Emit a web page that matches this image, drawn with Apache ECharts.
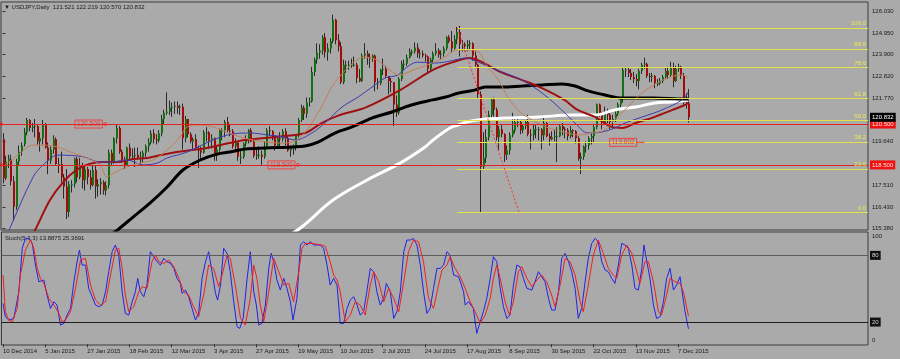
<!DOCTYPE html>
<html><head><meta charset="utf-8">
<script src="https://cdn.jsdelivr.net/npm/echarts@6/dist/echarts.min.js"></script>
<style>html,body{margin:0;padding:0;background:#aaaaaa}#c{width:900px;height:359px}</style>
</head><body><div id="c"></div><script>
// ---------- data ----------
const dateLabels = ['10 Dec 2014','5 Jan 2015','27 Jan 2015','18 Feb 2015','12 Mar 2015','3 Apr 2015','27 Apr 2015','19 May 2015','10 Jun 2015','2 Jul 2015','24 Jul 2015','17 Aug 2015','8 Sep 2015','30 Sep 2015','22 Oct 2015','13 Nov 2015','7 Dec 2015'];
const dateLabelIdx = [0,16,32,48,64,80,96,112,128,144,160,176,192,208,224,240,256];
const priceTicks = [126.030,124.950,123.900,122.820,121.770,119.640,117.510,116.430,115.380];

const opens = [119.75,117.85,118.65,118.75,117.70,116.45,118.65,119.15,119.50,120.10,120.70,120.30,120.35,120.40,119.65,119.80,120.45,119.35,118.70,119.25,119.75,118.55,118.55,117.90,117.45,116.20,117.55,117.55,118.80,117.90,118.45,117.75,118.30,117.90,117.50,118.25,117.45,117.55,117.65,117.25,117.50,119.10,118.65,119.80,120.30,119.15,118.70,118.50,119.35,118.90,118.95,119.00,118.85,118.85,119.10,119.40,119.60,120.05,119.75,119.70,120.05,120.75,121.05,121.10,121.30,121.35,121.40,121.30,121.35,119.80,120.75,120.00,119.65,119.75,119.30,119.20,119.10,120.10,120.10,119.70,119.80,118.95,119.25,120.20,120.20,120.60,120.20,120.15,119.40,119.60,118.90,118.90,119.55,119.75,120.20,119.65,118.95,119.00,119.00,118.90,119.40,120.20,120.15,119.80,119.45,119.80,119.75,120.15,119.80,119.20,119.30,119.35,119.95,120.70,121.30,121.00,121.55,121.60,123.05,123.65,124.00,124.10,124.75,124.00,124.20,124.55,125.60,124.60,124.30,122.55,123.40,123.40,123.40,123.40,123.40,122.75,122.60,123.85,123.95,123.75,123.70,123.85,122.55,122.50,123.15,123.20,122.85,122.60,122.55,121.45,121.05,122.70,123.45,123.45,123.75,124.05,124.05,124.25,123.95,123.95,123.85,123.80,123.20,123.65,123.95,124.10,123.90,123.95,124.20,124.75,124.55,124.20,124.65,125.00,124.40,124.40,124.30,124.40,124.45,123.85,123.40,121.95,118.40,118.85,119.85,120.95,121.70,121.20,119.85,120.25,120.00,119.00,119.20,119.95,120.20,120.60,120.60,120.20,120.40,120.60,120.00,119.95,120.25,120.25,120.25,119.95,120.55,119.90,119.75,119.85,119.90,119.90,120.40,120.25,120.20,119.90,120.20,120.15,119.80,118.80,118.90,119.40,119.45,119.80,119.90,120.35,121.45,121.05,120.55,121.10,120.95,120.60,120.75,121.00,121.45,121.75,123.15,123.15,123.00,122.80,122.70,122.60,123.10,123.40,123.45,122.85,122.80,122.85,122.50,122.50,122.60,122.80,123.10,122.90,123.25,122.60,123.20,123.30,122.85,121.55,121.521];
const highs = [120.05,118.95,119.00,119.00,117.95,118.80,119.45,119.60,120.30,120.80,120.75,120.55,120.75,120.45,120.10,120.70,120.55,119.60,119.40,119.95,119.85,118.85,119.15,118.05,118.30,117.70,117.75,118.85,118.90,118.85,118.60,118.50,118.40,118.25,118.45,118.45,117.80,117.85,117.75,117.70,119.25,119.25,119.85,120.50,120.40,119.25,118.90,119.40,119.55,119.30,119.35,119.35,119.15,119.20,119.50,119.80,120.20,120.25,120.00,120.20,120.95,121.20,122.05,121.65,121.55,121.60,121.60,121.45,121.50,120.90,120.75,120.10,119.85,120.00,119.45,119.40,120.20,120.35,120.15,120.00,119.85,119.40,120.25,120.30,120.70,120.85,120.45,120.25,119.80,119.65,119.20,119.60,119.95,120.25,120.30,119.80,119.25,119.40,119.20,119.65,120.30,120.40,120.20,119.95,119.90,120.10,120.25,120.30,119.90,119.45,119.50,120.00,120.80,121.45,121.40,121.80,121.80,123.30,123.75,124.45,124.40,124.85,124.95,124.45,124.70,125.85,125.65,124.90,124.50,123.65,123.60,123.60,123.70,123.80,123.50,123.20,123.95,124.45,124.10,123.95,123.90,123.90,122.75,123.20,123.70,123.35,122.85,122.75,122.55,121.90,122.80,123.60,123.65,123.90,124.20,124.15,124.50,124.45,124.15,124.10,123.95,123.85,123.75,124.05,124.45,124.20,124.10,124.30,124.80,124.85,125.05,124.85,125.25,125.30,124.60,124.50,124.60,124.60,124.50,124.05,123.45,122.10,120.10,120.25,121.15,121.75,121.80,121.30,120.40,120.50,120.05,119.45,120.10,121.05,120.75,120.85,120.65,120.50,120.70,120.95,120.25,120.45,120.50,120.35,120.30,120.80,120.60,120.05,120.15,120.25,120.35,120.45,120.55,120.35,120.30,120.40,120.25,120.20,119.90,119.10,119.45,119.65,119.90,120.05,120.45,121.50,121.50,121.10,121.35,121.25,121.10,120.95,121.15,121.55,121.80,123.25,123.30,123.25,123.20,123.05,122.95,123.20,123.50,123.75,123.50,123.00,123.00,122.90,122.70,122.75,122.90,123.25,123.30,123.55,123.50,123.35,123.45,123.35,123.00,122.00,122.219];
const lows = [117.60,117.75,118.35,117.50,115.75,116.30,118.50,118.95,119.40,119.95,120.15,120.10,119.85,119.50,119.15,119.50,119.30,118.05,118.55,119.05,118.50,118.10,117.65,116.85,115.85,115.95,117.15,117.40,117.65,117.80,117.35,117.25,117.55,117.30,117.45,116.85,116.95,117.05,117.05,117.00,117.35,118.50,118.55,119.55,119.05,118.60,118.30,118.50,118.80,118.75,118.40,118.75,118.55,118.60,118.90,119.15,119.50,119.55,119.50,119.60,119.90,120.50,120.95,120.95,120.85,121.00,121.00,120.95,119.25,119.60,119.85,119.55,119.25,119.25,118.35,118.80,119.05,119.65,119.30,119.30,118.70,118.70,119.15,119.70,119.85,120.10,119.90,119.30,119.15,118.70,118.55,118.80,119.40,119.55,119.60,118.85,118.75,118.80,118.50,118.80,119.30,119.90,119.70,119.20,119.30,119.35,119.65,119.45,119.15,118.90,119.00,119.20,119.85,120.60,120.70,120.80,121.35,121.55,122.85,123.45,123.70,123.90,123.75,123.60,123.95,124.45,124.40,124.05,122.45,122.45,123.00,123.15,123.25,123.30,122.50,122.55,122.55,123.70,123.40,123.25,123.55,122.10,122.20,122.40,122.90,122.75,121.95,122.05,120.40,120.85,120.95,122.60,123.15,123.35,123.70,123.85,123.95,123.75,123.70,123.75,123.55,123.00,123.05,123.45,123.85,123.75,123.65,123.80,124.10,124.45,124.00,124.15,124.40,123.80,124.05,124.05,124.05,124.15,123.60,123.30,121.75,116.15,118.25,118.60,119.70,120.80,120.85,119.70,119.20,119.85,118.65,118.75,119.00,119.85,120.05,120.35,120.00,120.05,120.25,119.90,119.25,119.70,119.80,119.70,119.25,119.70,119.85,119.45,119.70,119.65,118.65,119.85,119.95,119.80,119.70,119.80,119.85,119.55,118.70,118.05,118.75,119.10,119.25,119.50,119.60,120.25,120.85,120.25,120.45,120.55,120.25,120.30,120.60,120.90,121.30,121.55,122.80,122.80,122.65,122.50,122.35,122.20,122.95,123.20,122.75,122.55,122.55,122.25,122.35,122.40,122.50,122.70,122.70,122.80,122.30,122.55,123.05,122.70,121.45,121.25,120.570];
const closes = [117.85,118.65,118.80,117.70,116.45,118.65,119.15,119.45,120.10,120.70,120.30,120.35,120.40,119.65,119.80,120.45,119.35,118.70,119.25,119.75,118.55,118.55,117.90,117.45,116.20,117.55,117.55,118.80,117.90,118.45,117.75,118.30,117.90,117.50,118.25,117.45,117.55,117.65,117.25,117.50,119.10,118.65,119.80,120.30,119.15,118.70,118.50,119.35,118.90,118.95,119.00,118.85,118.85,119.10,119.40,119.60,120.05,119.75,119.70,120.05,120.75,121.05,121.10,121.30,121.35,121.40,121.30,121.35,119.80,120.75,120.00,119.65,119.75,119.30,119.20,119.10,120.10,120.10,119.70,119.80,118.95,119.25,120.20,120.20,120.60,120.20,120.15,119.40,119.60,118.90,118.90,119.55,119.75,120.20,119.65,118.95,119.00,119.00,118.90,119.40,120.20,120.15,119.80,119.45,119.80,119.75,120.15,119.80,119.20,119.30,119.35,119.95,120.70,121.30,121.00,121.55,121.60,123.05,123.65,124.00,124.10,124.75,124.00,124.20,124.55,125.60,124.60,124.30,122.55,123.40,123.40,123.40,123.40,123.40,122.75,122.60,123.85,123.95,123.75,123.70,123.85,122.55,122.50,123.15,123.20,122.85,122.60,122.55,121.45,121.05,122.70,123.45,123.45,123.75,124.05,124.05,124.25,123.95,123.95,123.85,123.80,123.20,123.65,123.95,124.10,123.90,123.95,124.20,124.75,124.55,124.20,124.65,125.00,124.40,124.40,124.30,124.40,124.45,123.85,123.40,121.95,118.40,118.85,119.85,120.95,121.70,121.20,119.85,120.25,120.00,119.00,119.20,119.95,120.20,120.60,120.60,120.20,120.40,120.60,120.00,119.95,120.25,120.25,120.25,119.95,120.55,119.90,119.75,119.85,119.90,119.90,120.40,120.25,120.20,119.90,120.20,120.15,119.80,118.80,118.90,119.40,119.45,119.80,119.90,120.35,121.45,121.05,120.55,121.10,120.95,120.60,120.75,121.00,121.45,121.75,123.15,123.15,123.00,122.80,122.70,122.60,123.10,123.40,123.45,122.85,122.80,122.85,122.50,122.50,122.60,122.80,123.10,122.90,123.25,122.60,123.20,123.30,122.85,121.55,121.50,120.832];

// moving averages: [bar index, price]
const maWhite = [[106,114.9],[112.8,115.4],[125.3,116.78],[138.2,117.76],[150.7,118.59],[160.2,119.38],[163.2,119.72],[169.6,120.31],[172.7,120.45],[176,120.6],[180.2,120.7],[190.5,120.79],[203,120.84],[216,120.94],[224.6,120.94],[232,121.19],[240,121.33],[247.3,121.53],[253.8,121.58],[260,121.68]];
const maBlack = [[38,114.8],[43.4,115.3],[49.5,115.95],[56,116.64],[62.4,117.42],[68.4,118.25],[75,118.74],[81.3,119.03],[86.2,119.13],[92,119.28],[99.5,119.33],[110,119.38],[114.7,119.43],[119.6,119.62],[126,120.06],[132.5,120.36],[140,120.79],[147.6,121.09],[155,121.43],[163,121.68],[168,121.82],[173,122.02],[179,122.16],[183,122.31],[189.4,122.31],[197,122.36],[204.5,122.41],[212,122.46],[217,122.36],[222,122.12],[228.4,121.92],[235,121.77],[247,121.77],[258.7,121.72],[260,121.72]];
const maMaroon = [[8,114.3],[12.3,115.3],[18,116.78],[23,117.66],[28,118.25],[33,118.55],[38,118.64],[43.4,118.64],[49.5,118.79],[55,118.84],[60,118.98],[66,119.13],[72,119.23],[77.5,119.33],[82.5,119.47],[86,119.57],[92,119.72],[99.5,119.82],[107,119.91],[114.7,120.06],[121,120.55],[127,120.9],[138,121.33],[150.7,122.16],[163,123.14],[170.8,123.53],[177,123.73],[183,123.45],[188.6,123.05],[197,122.65],[204.5,122.26],[213,121.68],[218,121.19],[224.6,120.85],[231,120.36],[235,120.31],[240,120.55],[247,120.84],[254,121.19],[258.7,121.43],[260,121.53]];
const maBlue = [[0,114.5],[2.8,115.4],[11.6,117.91],[15.4,118.5],[21,118.98],[30.5,118.9],[37,118.64],[40.8,118.64],[47.2,118.74],[53.3,118.5],[58.6,118.59],[62.4,118.84],[70,119.13],[79.8,119.72],[87.4,120.02],[93.8,120.06],[100.3,119.97],[106.3,119.87],[110.9,119.72],[117.3,120.06],[122.2,120.55],[128.7,121.33],[134.8,121.82],[140.1,122.31],[145,122.75],[149.9,122.9],[153.3,123.29],[157.5,123.53],[162.8,123.48],[167.7,123.53],[173,123.68],[176.1,123.73],[178.4,123.63],[182.9,123.39],[189.4,123.05],[196.9,122.65],[204.5,122.02],[212,121.19],[217,120.55],[222,120.06],[227.2,120.11],[232.2,120.31],[236,120.55],[242.4,120.84],[250,121.19],[257.6,121.68],[260,122.07]];
const maOrange = [[1,118.5],[6.6,119.07],[11.6,119.47],[15.4,119.47],[20.7,119.38],[26.8,119.08],[32,118.84],[37,118.5],[39.6,117.91],[42,118.1],[47.2,118.4],[52,118.59],[57,118.74],[62.4,119.23],[67.3,119.87],[70,120.36],[74.9,120.45],[79.8,120.36],[85,120.11],[90,119.87],[95,119.72],[100,119.62],[105,119.57],[110,119.62],[114.7,120.1],[118.5,120.8],[122,121.6],[125,122.35],[129,123.0],[133,123.5],[136.7,123.78],[142,123.63],[145.8,123.24],[150.7,122.9],[155.6,123.14],[161,123.39],[167,123.73],[172.3,124.12],[179,124.12],[184,123.29],[188,122.65],[191.6,121.82],[195.4,121.19],[200.7,120.7],[207,120.31],[213,120.11],[218,119.97],[223.5,120.06],[228.4,120.21],[232,120.7],[237,121.33],[242.4,122.02],[247,122.41],[252,122.75],[257.6,122.9],[260,122.75]];

// stochastic: [bar index, value]
const stochK = [[0,36.8],[0.9,24.8],[2.2,21.8],[4.1,23.3],[6,47.3],[7.3,86.3],[8.5,95.3],[9.8,95.3],[11.1,90.8],[12.3,71.3],[13.6,56.3],[15.5,57.8],[16.7,44.3],[18,32.3],[19.3,38.3],[20.5,35.3],[21.8,17.3],[23.1,18.8],[24.3,26.3],[25.6,32.3],[26.9,56.3],[28.1,74.3],[29,84.8],[30,71.3],[31.3,71.3],[32.5,50.3],[33.8,42.8],[35.1,35.3],[36.3,33.8],[37.6,35.3],[38.9,47.3],[40.1,65.3],[41.4,83.3],[42.6,89.3],[43.9,80.3],[45.2,47.3],[46.4,27.8],[47.7,26.3],[49,38.3],[50.2,47.3],[51.1,59.3],[52.1,47.3],[53.4,42.8],[54.6,53.3],[55.9,83.3],[57.2,78.8],[58.4,74.3],[59.7,71.3],[61,77.3],[62.2,74.3],[63.5,72.8],[64.8,68.3],[66,59.3],[67.3,54.8],[67.9,45.8],[69.2,48.8],[70.4,42.8],[71.7,32.3],[73,21.8],[74.2,27.8],[75.5,59.3],[76.8,74.3],[78,83.3],[79.3,65.3],[80.6,45.8],[81.4,39.8],[82.5,53.3],[83.7,86.3],[85,81.8],[86.2,65.3],[87.5,38.3],[88.8,15.8],[89.8,14.3],[91.1,23.3],[92.6,59.3],[93.8,83.3],[95.1,47.3],[96.1,35.3],[97,17.3],[98.2,18.8],[99.5,35.3],[100.8,68.3],[101.7,81.8],[102.7,74.3],[103.9,57.8],[105.2,48.8],[106.5,59.3],[107.7,50.3],[109,38.3],[110,21.8],[111.5,41.3],[112.8,89.3],[114,92.3],[115.3,89.3],[116.6,92.3],[117.8,89.3],[120.4,89.3],[121.6,86.3],[122.9,71.3],[124.1,53.3],[125.4,59.3],[126.7,53.3],[127.9,18.8],[129.2,18.8],[130.5,32.3],[131.7,39.8],[133,42.8],[134.3,35.3],[135.5,26.3],[136.8,29.3],[138,47.3],[139.3,68.3],[140.6,65.3],[141.8,47.3],[143.1,35.3],[144.4,41.3],[145.4,54.8],[146.9,47.3],[148.2,23.3],[149.4,29.3],[150.7,47.3],[152,83.3],[153.2,93.8],[154.5,93.8],[155.7,95.3],[157,89.3],[158.3,71.3],[159.5,47.3],[160.8,27.8],[162,32.3],[163.3,50.3],[164.6,68.3],[165.8,68.3],[167.1,71.3],[168.4,83.3],[169.6,80],[170.9,62.3],[172.8,60.8],[174.7,47.3],[175.3,35.3],[176.6,38.3],[178.4,32.3],[179.7,9.8],[181,20.3],[182.2,29.3],[183.5,41.3],[184.8,59.3],[186,78.8],[187.3,74.3],[188.6,50.3],[189.8,33.8],[191.1,23.3],[192.3,26.3],[193.6,53.3],[194.9,71.3],[196.1,69.8],[197.4,59.3],[198.7,50.3],[200.6,48.8],[201.8,56.3],[203.1,65.3],[204.3,60.8],[205.6,56.3],[206.9,41.3],[208.1,30.8],[209.4,30.8],[210.7,47.3],[211.9,77.3],[213.2,81.8],[214.5,74.3],[215.7,65.3],[217,50.3],[218.2,23.3],[219.5,32.3],[220.8,56.3],[222,77.3],[223.3,90.8],[224.6,95.3],[225.8,92.3],[227.1,74.3],[228.4,66.8],[229.6,65.3],[230.9,59.3],[232.1,54.8],[233.4,71.3],[234.7,90.8],[235.9,89.3],[237.2,86.3],[238.5,71.3],[239.7,50.3],[241,48.8],[242.3,68.3],[243.1,89.3],[244.2,74.3],[245.4,59.3],[246.7,35.3],[247.9,23.3],[249.2,24.8],[250.5,38.3],[251.7,59.3],[253,68.3],[254.3,48.8],[255.5,53.3],[256.8,60.8],[257.4,50.3],[258.7,29.3],[260,13.89]];
const stochD = [[0,62.3],[0.9,29.3],[2.2,21.8],[3.5,20.3],[5.4,32.3],[6.6,62.3],[8.5,84.8],[10.4,93.8],[11.7,86.3],[13,68.3],[14.2,59.3],[15.5,54.8],[17.4,41.3],[19.3,35.3],[21.2,27.8],[22.4,20.3],[23.7,21.8],[25.6,29.3],[27.5,50.3],[29.4,75.8],[31.3,77.3],[33.2,53.3],[35.1,39.8],[37,35.3],[38.9,38.3],[40.8,62.3],[42.6,84.8],[43.9,86.3],[45.2,68.3],[46.4,44.3],[47.7,29.3],[49.6,33.8],[51.5,47.3],[52.8,51.8],[54.6,50.3],[56.5,74.3],[57.8,80.3],[59.1,74.3],[61,72.8],[62.9,75.8],[64.8,69.8],[66.7,59.3],[68.5,47.3],[70.4,44.3],[72.3,33.8],[74.2,24.8],[76.1,44.3],[78,71.3],[79.9,68.3],[81.8,51.8],[83.1,62.3],[85,80.3],[86.2,77.3],[88.1,53.3],[90.1,23.3],[91.9,17.3],[93.8,41.3],[95.1,71.3],[96.3,59.3],[97.6,35.3],[98.9,20.3],[100.8,47.3],[102.7,77.3],[104.6,65.3],[106.5,53.3],[108.4,54.8],[110.2,38.3],[112.2,65.3],[113.4,86.3],[114.7,90.8],[117.2,90.8],[121,89.3],[122.3,87.8],[124.1,74.3],[125.4,62.3],[126.7,57.8],[127.9,47.3],[129.8,20.3],[131.7,26.3],[133.6,38.3],[135.5,35.3],[137.4,26.3],[139.3,53.3],[140.6,65.3],[142.5,56.3],[144.4,38.3],[146.3,50.3],[148.2,41.3],[150.1,29.3],[152,56.3],[153.8,83.3],[155.7,93.8],[157.6,92.3],[159.5,74.3],[161.4,41.3],[163.3,32.3],[165.2,53.3],[166.5,66.8],[168.4,71.3],[169.6,78.8],[171.5,68.3],[173.4,60.8],[175.3,50.3],[177.2,38.3],[179.1,29.3],[181,18.8],[182.9,26.3],[184.8,41.3],[186,59.3],[187.3,71.3],[188.6,59.3],[190.4,38.3],[192.1,26.3],[193.6,38.3],[195.5,65.3],[196.8,69.8],[198.7,59.3],[200.6,51.8],[202.5,57.8],[204.3,62.3],[206.2,56.3],[208.1,44.3],[209.4,33.8],[211.3,53.3],[213.2,77.3],[215.1,74.3],[217,62.3],[218.9,38.3],[220.1,29.3],[222,53.3],[223.9,80.3],[225.8,93.8],[227.7,81.8],[229.6,68.3],[231.5,62.3],[232.8,59.3],[234.7,80.3],[236.6,89.3],[238.5,81.8],[240.4,65.3],[241.6,54.8],[243.5,74.3],[244.8,74.3],[246.7,56.3],[248.6,29.3],[249.8,26.3],[251.7,44.3],[253,59.3],[254.9,56.3],[256.8,54.8],[258.1,47.3],[260,25.37]];

// chart objects
const fibLevels = [0, 23.6, 38.2, 50, 61.8, 78.6, 88.6, 100];
const fibLow = 116.18, fibHigh = 125.21, fibStartIdx = 172.4, fibEndIdx = 195.8;
const hLines = [120.5, 118.5];
const lastPrice = 120.832;
const priceTags = [[39, 120.5, '120.500'], [112, 118.5, '118.500'], [240.4, 119.602, '119.602']];
const stochLevels = [80, 20];
const header = '\u25BC USDJPY,Daily  121.521 122.219 120.570 120.832';
const stochHeader = 'Stoch(5,3,3) 13.8875 25.3691';

// ---------- chart ----------
const XMIN = -0.57, XMAX = 328.09;
const FONT = 'Liberation Sans, Arial, sans-serif';
const TXT = '#1a1a1a';
const chart = echarts.init(document.getElementById('c'));

const candleData = opens.map((o, i) => [i, o, closes[i], lows[i], highs[i]]);

function renderCandle(params, api) {
  const i = api.value(0), o = api.value(1), c = api.value(2), l = api.value(3), h = api.value(4);
  const pH = api.coord([i, h]), pL = api.coord([i, l]), pO = api.coord([i, o]), pC = api.coord([i, c]);
  const px = Math.round(pH[0]);
  const top = Math.min(pO[1], pC[1]), bot = Math.max(pO[1], pC[1]);
  const up = c >= o;
  return {
    type: 'group',
    children: [
      { type: 'line', shape: { x1: px + 0.5, y1: pH[1], x2: px + 0.5, y2: pL[1] }, style: { stroke: '#2a2a2a', lineWidth: 1 } },
      { type: 'rect', shape: { x: px, y: top, width: 2, height: Math.max(1, bot - top) }, style: { fill: up ? '#127212' : '#a30a0a' } }
    ]
  };
}

const maLine = (data, color, width) => ({
  type: 'line', data, xAxisIndex: 0, yAxisIndex: 0, showSymbol: false, smooth: 0.35,
  lineStyle: { color, width }, z: 4, silent: true, clip: true
});

const fibMark = fibLevels.map(l => {
  const p = fibLow + (fibHigh - fibLow) * l / 100;
  return [{ coord: [fibStartIdx, p], label: { formatter: l.toFixed(1) } }, { coord: [XMAX, p] }];
});

const boxLbl = (bg, fg, text) => ({
  show: true, position: 'end', distance: 2, backgroundColor: bg, color: fg,
  fontSize: 6, fontFamily: FONT, padding: [1, 2, 1, 2], lineHeight: 7, formatter: text
});

const option = {
  animation: false,
  backgroundColor: '#aaaaaa',
  textStyle: { fontFamily: FONT },
  grid: [
    { left: 1, top: 2, width: 867, height: 228, show: true, borderColor: '#3c3c3c', borderWidth: 1, backgroundColor: 'transparent' },
    { left: 1, top: 232, width: 867, height: 113, show: true, borderColor: '#3c3c3c', borderWidth: 1, backgroundColor: 'transparent' }
  ],
  xAxis: [
    { type: 'value', gridIndex: 0, min: XMIN, max: XMAX, show: false },
    { type: 'value', gridIndex: 1, min: XMIN, max: XMAX, position: 'bottom',
      axisLine: { show: false }, splitLine: { show: false },
      axisTick: { show: true, customValues: dateLabelIdx, length: 3, lineStyle: { color: '#333' } },
      axisLabel: { customValues: dateLabelIdx, align: 'left', fontSize: 6, color: TXT, margin: 3, fontFamily: FONT,
        formatter: v => { const k = dateLabelIdx.indexOf(Math.round(v)); return k >= 0 ? dateLabels[k] : ''; } } }
  ],
  yAxis: [
    { type: 'value', gridIndex: 0, position: 'right', min: 115.316, max: 126.470, scale: true,
      axisLine: { show: false }, splitLine: { show: false },
      axisTick: { show: true, customValues: priceTicks, length: 3, lineStyle: { color: '#333' } },
      axisLabel: { customValues: priceTicks, fontSize: 6, color: TXT, margin: 4, fontFamily: FONT, formatter: v => v.toFixed(3) } },
    { type: 'value', gridIndex: 1, position: 'right', min: -0.63, max: 101.02,
      axisLine: { show: false }, splitLine: { show: false }, axisTick: { show: false },
      axisLabel: { customValues: [0, 100], fontSize: 6, color: TXT, margin: 4, fontFamily: FONT,
        formatter: v => v >= 50 ? '{a|100}' : '{b|0}',
        rich: { a: { fontSize: 6, padding: [7, 0, 0, 0] }, b: { fontSize: 6, padding: [0, 0, 8, 0] } } } }
  ],
  graphic: [
    { type: 'text', left: 4, top: 4, style: { text: header, fontSize: 6, fill: TXT, font: '6px ' + FONT } },
    { type: 'text', left: 5, top: 235, style: { text: stochHeader, fontSize: 6, fill: TXT, font: '6px ' + FONT } }
  ],
  series: [
    { type: 'custom', name: 'candles', xAxisIndex: 0, yAxisIndex: 0, renderItem: renderCandle, data: candleData,
      encode: { x: 0, y: [1, 2, 3, 4] }, z: 2, silent: true, clip: true },
    // chart objects
    { type: 'scatter', xAxisIndex: 0, yAxisIndex: 0, z: 6, silent: true,
      data: priceTags.map((t, k) => ({
        value: [t[0], t[1]],
        name: t[2],
        symbol: k === 2 ? 'rect' : 'circle',
        symbolSize: k === 2 ? [8, 1] : 3,
        symbolOffset: k === 2 ? [4, 0] : [0, 0],
        itemStyle: k === 2 ? { color: '#ff2020' } : { color: 'rgba(0,0,0,0)', borderColor: '#ff2020', borderWidth: 1 },
        label: { show: true, position: 'left', distance: k === 2 ? 0 : 1, formatter: () => t[2], color: '#ff1e1e',
          borderColor: '#ff2a2a', borderWidth: 1, padding: [1, 2, 0, 2], fontSize: 6.5, lineHeight: 7, fontFamily: FONT }
      })),
      markLine: {
        silent: true, symbol: ['none', 'none'], animation: false,
        data: [
          ...fibMark.map(m => [Object.assign({}, m[0], {
            lineStyle: { color: '#e3e346', width: 1, type: 'solid' },
            label: { show: true, position: 'insideEndTop', distance: [2, 1], formatter: m[0].label.formatter,
              color: '#ecec50', fontSize: 6, fontFamily: FONT } }), m[1]]),
          [{ coord: [fibStartIdx, fibHigh], lineStyle: { color: '#ff3030', width: 1, type: [2, 2] }, label: { show: false } },
           { coord: [fibEndIdx, fibLow] }],
          ...hLines.map(v => ({ yAxis: v, symbol: ['none', 'rect'], symbolSize: 3,
            lineStyle: { color: '#e52222', width: 1, type: 'solid' }, label: boxLbl('#f01010', '#ffe4e4', v.toFixed(3)) })),
          { yAxis: lastPrice, lineStyle: { color: 'rgba(0,0,0,0)', width: 1 }, label: boxLbl('#000000', '#ffffff', lastPrice.toFixed(3)) }
        ]
      } },
    maLine(maWhite, '#ffffff', 3),
    maLine(maBlack, '#000000', 3),
    maLine(maMaroon, '#a01010', 2),
    maLine(maBlue, '#3c3cb0', 1),
    maLine(maOrange, '#c57d55', 1),
    // stochastic
    { type: 'line', xAxisIndex: 1, yAxisIndex: 1, data: stochK, showSymbol: false, silent: true,
      lineStyle: { color: '#2222e6', width: 1 }, z: 4,
      markLine: { silent: true, symbol: ['none', 'none'], animation: false,
        data: stochLevels.map((v, k) => ({ yAxis: v,
          lineStyle: { color: k === 0 ? '#5c5c5c' : '#1e1e1e', width: 1, type: 'solid' },
          label: boxLbl('#111111', '#d8d8d8', String(v)) })) } },
    { type: 'line', xAxisIndex: 1, yAxisIndex: 1, data: stochD, showSymbol: false, silent: true,
      lineStyle: { color: '#f02020', width: 1 }, z: 5 }
  ]
};
chart.setOption(option);
</script></body></html>
